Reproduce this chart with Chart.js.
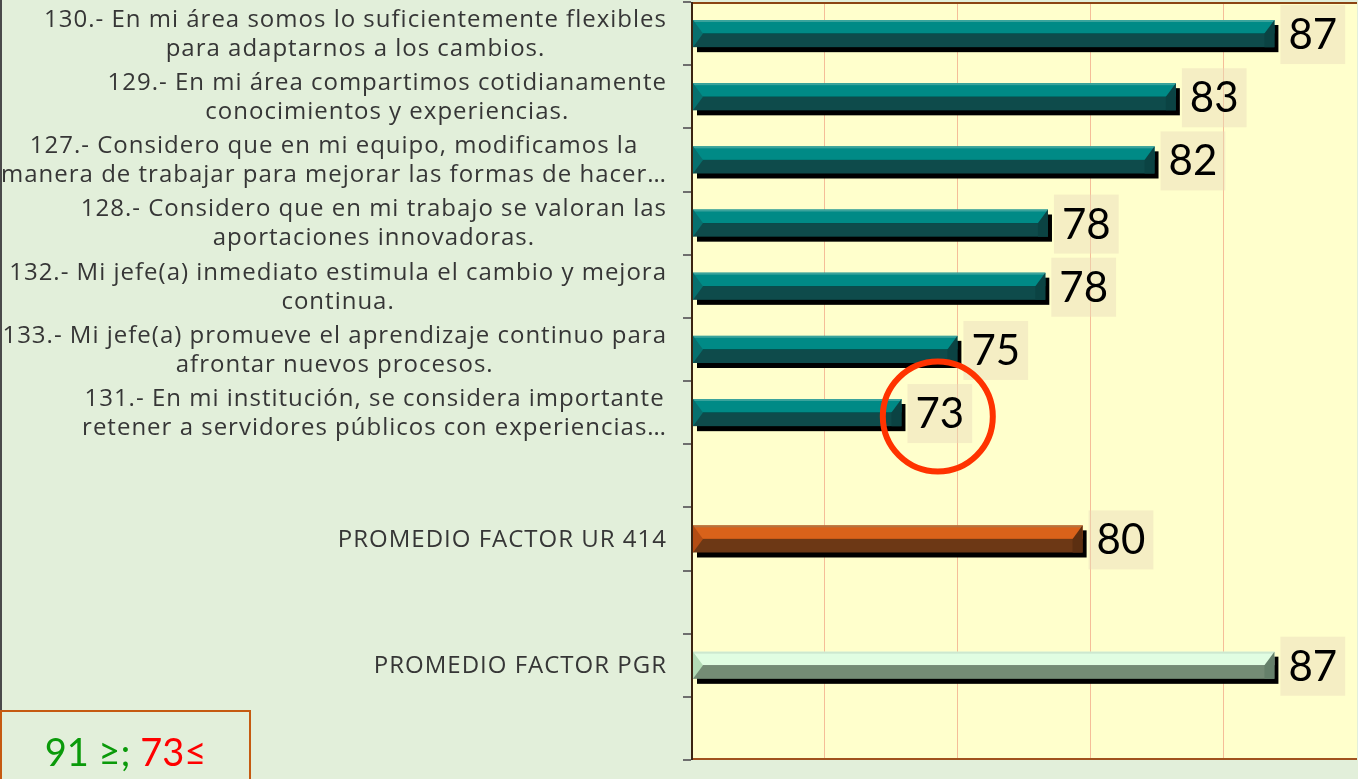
<!DOCTYPE html>
<html>
<head>
<meta charset="utf-8">
<script src="https://cdn.jsdelivr.net/npm/chart.js@4.4.1/dist/chart.umd.min.js"></script>
<style>
  html, body { margin: 0; padding: 0; background: #e2efda; }
  #wrap { position: relative; width: 1358px; height: 779px; overflow: hidden; }
  #edge { position: absolute; left: 0; top: 0; width: 2px; height: 710px; background: #4a4a4a; }
  #nota { position: absolute; left: 0; top: 710px; width: 251px; height: 90px; box-sizing: border-box;
          border: 2px solid #c55a11; font-family: Lato, sans-serif; font-size: 38px;
          line-height: 78px; text-align: center; }
  #nota .ok { color: #0a9a0a; }
  #nota .bad { color: #ff0000; }
</style>
</head>
<body>
<div id="wrap">
  <canvas id="grafica" width="1358" height="779"></canvas>
  <div id="edge"></div>
  <div id="nota"><span class="ok">91 ≥;</span> <span class="bad">73≤</span></div>
</div>
<script>
// categorias (los huecos vacios separan los promedios)
const categories = [
  ['130.- En mi área somos lo suficientemente flexibles', 'para adaptarnos a los cambios.'],
  ['129.- En mi área compartimos cotidianamente', 'conocimientos y experiencias.'],
  ['127.- Considero que en mi equipo, modificamos la', 'manera de trabajar para mejorar las formas de hacer…'],
  ['128.- Considero que en mi trabajo se valoran las', 'aportaciones innovadoras.'],
  ['132.- Mi jefe(a) inmediato estimula el cambio y mejora', 'continua.'],
  ['133.- Mi jefe(a) promueve el aprendizaje continuo para', 'afrontar nuevos procesos.'],
  ['131.- En mi institución, se considera importante', 'retener a servidores públicos con experiencias…'],
  '',
  'PROMEDIO FACTOR UR 414',
  '',
  'PROMEDIO FACTOR PGR',
  ''
];
const scores = [86.9, 83.2, 82.4, 78.4, 78.3, 75.0, 72.9, null, 79.7, null, 86.9, null];
const groups = ['item', 'item', 'item', 'item', 'item', 'item', 'item', null, 'ur', null, 'pgr', null];
const xTicks = [65, 70, 75, 80, 85, 90];
const circled = 6; // reactivo marcado con el circulo rojo

const palette = {
  item: { top: '#008a86', line: '#3aa39c', bottom: '#0e4b4b', left: '#07706e', right: '#0b4343' },
  ur:   { top: '#d9621a', line: '#b5733f', bottom: '#6d3815', left: '#b34d14', right: '#5c2f11' },
  pgr:  { top: '#e0fde2', line: '#cde8cf', bottom: '#748c75', left: '#b3dbb6', right: '#65806a' }
};

const plotBg = {
  id: 'plotBg',
  beforeDraw(chart) {
    const { ctx, chartArea: a } = chart;
    ctx.save();
    ctx.fillStyle = '#ffffcc';
    ctx.fillRect(a.left, a.top, a.right - a.left, a.bottom - a.top);
    ctx.restore();
  },
  afterDraw(chart) {
    const { ctx, chartArea: a } = chart;
    ctx.save();
    ctx.lineWidth = 2;
    ctx.strokeStyle = '#8b4513';
    ctx.beginPath(); ctx.moveTo(a.left, a.top + 1); ctx.lineTo(a.right, a.top + 1); ctx.stroke();
    ctx.strokeStyle = '#a0521e';
    ctx.beginPath(); ctx.moveTo(a.left, a.bottom - 1); ctx.lineTo(a.right, a.bottom - 1); ctx.stroke();
    ctx.strokeStyle = '#3b2412';
    ctx.beginPath(); ctx.moveTo(a.left + 1, a.top); ctx.lineTo(a.left + 1, a.bottom); ctx.stroke();
    ctx.restore();
  }
};

// barras con bisel y sombra, etiquetas de valor
const bevelBars = {
  id: 'bevelBars',
  afterDatasetsDraw(chart) {
    const { ctx, chartArea } = chart;
    const meta = chart.getDatasetMeta(0);
    ctx.save();
    meta.data.forEach((el, i) => {
      if (scores[i] == null) return;
      const p = el.getProps(['x', 'y', 'base', 'height'], true);
      const c = palette[groups[i]];
      const L = Math.max(p.base, chartArea.left + 2), R = p.x;
      const T = p.y - p.height / 2, B = p.y + p.height / 2, M = p.y;
      const b = 10;
      ctx.fillStyle = '#000';
      ctx.fillRect(L + 4, T + 5, R - L, B - T);
      ctx.fillStyle = c.bottom;
      ctx.fillRect(L, M, R - L, B - M);
      ctx.fillStyle = c.top;
      ctx.fillRect(L, T, R - L, M - T);
      ctx.fillStyle = c.line;
      ctx.fillRect(L, T, R - L, 2);
      ctx.fillStyle = c.left;
      ctx.beginPath(); ctx.moveTo(L, T); ctx.lineTo(L + b, M); ctx.lineTo(L, B); ctx.closePath(); ctx.fill();
      ctx.fillStyle = c.right;
      ctx.beginPath(); ctx.moveTo(R, T); ctx.lineTo(R - b, M); ctx.lineTo(R - b, B); ctx.lineTo(R, B); ctx.closePath(); ctx.fill();
    });
    ctx.font = '42px Lato, sans-serif';
    ctx.textAlign = 'center';
    ctx.textBaseline = 'middle';
    meta.data.forEach((el, i) => {
      if (scores[i] == null) return;
      const p = el.getProps(['x', 'y'], true);
      const txt = String(Math.round(scores[i]));
      const w = ctx.measureText(txt).width + 16;
      const bx = p.x + 6, by = p.y + 1 - 29.5;
      ctx.fillStyle = 'rgba(232,218,186,0.45)';
      ctx.fillRect(bx, by, w, 59);
      ctx.fillStyle = '#000';
      ctx.fillText(txt, bx + w / 2, p.y + 2);
      if (i === circled) {
        ctx.strokeStyle = '#ff3300';
        ctx.lineWidth = 6;
        ctx.beginPath();
        ctx.arc(bx + w / 2 - 2, p.y + 4, 55, 0, Math.PI * 2);
        ctx.stroke();
      }
    });
    ctx.restore();
  }
};

// etiquetas del eje Y: bloque centrado, alineado a la derecha
const yLabels = {
  id: 'yLabels',
  afterDraw(chart) {
    const { ctx } = chart;
    const y = chart.scales.y;
    const right = y.right - 24;
    ctx.save();
    ctx.font = '24px "Open Sans", sans-serif';
    ctx.letterSpacing = '1px';
    ctx.fillStyle = '#363636';
    ctx.textAlign = 'center';
    ctx.textBaseline = 'middle';
    categories.forEach((lab, i) => {
      if (!lab) return;
      const lines = Array.isArray(lab) ? lab : [lab];
      const widest = Math.max(...lines.map(s => ctx.measureText(s).width));
      const cx = right - widest / 2;
      const cy = y.getPixelForValue(i) + 1;
      const lh = 29;
      lines.forEach((s, k) => {
        ctx.fillText(s, cx, cy + (k - (lines.length - 1) / 2) * lh);
      });
    });
    ctx.restore();
  }
};

new Chart(document.getElementById('grafica'), {
  type: 'bar',
  data: {
    labels: categories,
    datasets: [{
      data: scores,
      backgroundColor: 'rgba(0,0,0,0)',
      borderWidth: 0,
      categoryPercentage: 1,
      barPercentage: 0.43
    }]
  },
  options: {
    indexAxis: 'y',
    responsive: false,
    animation: false,
    layout: { padding: { top: 2, bottom: 19, left: 0, right: 1 } },
    plugins: { legend: { display: false }, tooltip: { enabled: false } },
    scales: {
      x: {
        min: xTicks[0],
        max: xTicks[xTicks.length - 1],
        beginAtZero: false,
        afterBuildTicks: s => { s.ticks = xTicks.map(v => ({ value: v })); },
        ticks: { display: false },
        border: { display: false },
        grid: {
          drawTicks: false,
          lineWidth: 1,
          color: c => (c.tick && (c.tick.value === 65 || c.tick.value === 90)) ? 'rgba(0,0,0,0)' : '#f5bd98'
        },
        afterFit: s => { s.height = 0; }
      },
      y: {
        ticks: { display: false },
        border: { display: false },
        grid: { drawOnChartArea: false, drawTicks: true, tickLength: 8, color: '#6e6e6e', lineWidth: 2, offset: true },
        afterFit: s => { s.width = 691; }
      }
    }
  },
  plugins: [plotBg, bevelBars, yLabels]
});
</script>
</body>
</html>
